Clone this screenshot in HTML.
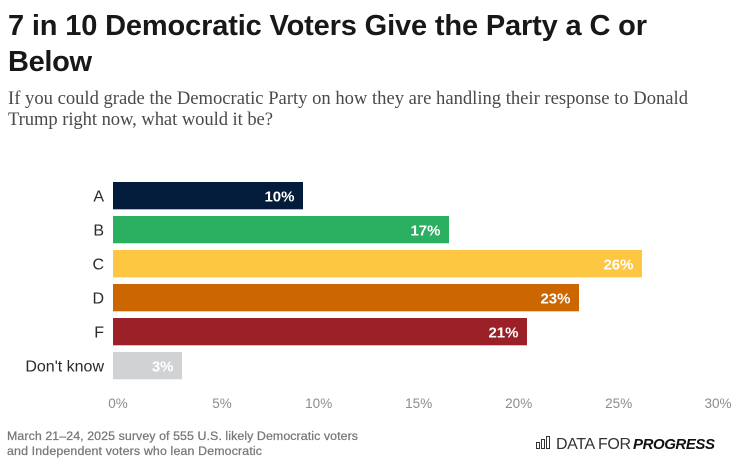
<!DOCTYPE html>
<html>
<head>
<meta charset="utf-8">
<style>
html,body{margin:0;padding:0;background:#fff;}
svg{display:block;}
text{font-family:"Liberation Sans",sans-serif;}
</style>
</head>
<body>
<svg id="chart" xmlns="http://www.w3.org/2000/svg" width="732" height="466" viewBox="0 0 732 466">
<rect width="732" height="466" fill="#fff"/>
<g fill="#17181a" font-weight="700" font-size="29">
<text x="8" y="35" textLength="639" lengthAdjust="spacing">7 in 10 Democratic Voters Give the Party a C or</text>
<text x="8" y="71" textLength="84" lengthAdjust="spacing">Below</text>
</g>
<g fill="#4a4a4a" font-size="18.6">
<text x="8" y="104" style="font-family:'Liberation Serif',serif" textLength="680" lengthAdjust="spacing">If you could grade the Democratic Party on how they are handling their response to Donald</text>
<text x="8" y="125" style="font-family:'Liberation Serif',serif" textLength="265" lengthAdjust="spacing">Trump right now, what would it be?</text>
</g>
<g id="bars"></g>
<g id="cat-labels"></g>
<g id="x-ticks"></g>
<g fill="#777" font-size="12.4">
<text x="7" y="440" textLength="351" lengthAdjust="spacing" stroke="#777" stroke-width="0.25">March 21–24, 2025 survey of 555 U.S. likely Democratic voters</text>
<text x="7" y="455" textLength="255" lengthAdjust="spacing" stroke="#777" stroke-width="0.25">and Independent voters who lean Democratic</text>
</g>
<g>
<g fill="none" stroke="#333" stroke-width="1">
<rect x="536.5" y="442.5" width="3" height="6"/>
<rect x="541.5" y="439.5" width="3" height="9"/>
<rect x="546.5" y="436.5" width="3" height="12"/>
</g>
<text x="556" y="449" font-size="16" fill="#333" textLength="75" lengthAdjust="spacing">DATA FOR</text>
<text x="633" y="449" font-size="15" font-weight="700" font-style="italic" fill="#111" textLength="82" lengthAdjust="spacing">PROGRESS</text>
</g>
</svg>
<script>
const categories = ["A", "B", "C", "D", "F", "Don't know"];
const barValues = [9.5, 16.8, 26.45, 23.3, 20.7, 3.45];
const printedLabels = ["10%", "17%", "26%", "23%", "21%", "3%"];
const barColors = ["#041c3c", "#2bb062", "#fec741", "#cb6601", "#9b2028", "#d1d2d4"];
const tickValues = [0, 5, 10, 15, 20, 25, 30];
const tickLabels = ["0%", "5%", "10%", "15%", "20%", "25%", "30%"];

const NS = "http://www.w3.org/2000/svg";
function x(v) { return 113 + v * 20; }
function y(i) { return 182 + i * 34; }
const barHeight = 27.3;
const bars = document.getElementById("bars");
const catG = document.getElementById("cat-labels");
const tickG = document.getElementById("x-ticks");

categories.forEach(function (c, i) {
  const r = document.createElementNS(NS, "rect");
  
  
  r.setAttribute("x", x(0));
  r.setAttribute("y", y(i));
  r.setAttribute("width", x(barValues[i]) - x(0));
  r.setAttribute("height", barHeight);
  r.setAttribute("fill", barColors[i]);
  bars.appendChild(r);

  const t = document.createElementNS(NS, "text");
  
  
  t.setAttribute("x", x(barValues[i]) - 8.5);
  t.setAttribute("y", y(i) + 19.5);
  t.setAttribute("text-anchor", "end");
  t.setAttribute("font-size", "15");
  t.setAttribute("font-weight", "700");
  t.setAttribute("fill", "#fff");
  t.textContent = printedLabels[i];
  bars.appendChild(t);

  const l = document.createElementNS(NS, "text");
  
  
  l.setAttribute("x", 104);
  l.setAttribute("y", y(i) + 19.5);
  l.setAttribute("text-anchor", "end");
  l.setAttribute("font-size", "16");
  l.setAttribute("fill", "#2a2a2a");
  l.textContent = c;
  catG.appendChild(l);
});

tickValues.forEach(function (v, i) {
  const t = document.createElementNS(NS, "text");
  
  
  t.setAttribute("x", x(v) + (i === 1 ? 9 : i === 0 || i === 6 ? 5 : 5.7));
  t.setAttribute("y", 408);
  t.setAttribute("text-anchor", "middle");
  t.setAttribute("font-size", "13.5");
  t.setAttribute("fill", "#8c8c8c");
  t.textContent = tickLabels[i];
  tickG.appendChild(t);
});
</script>
</body>
</html>
